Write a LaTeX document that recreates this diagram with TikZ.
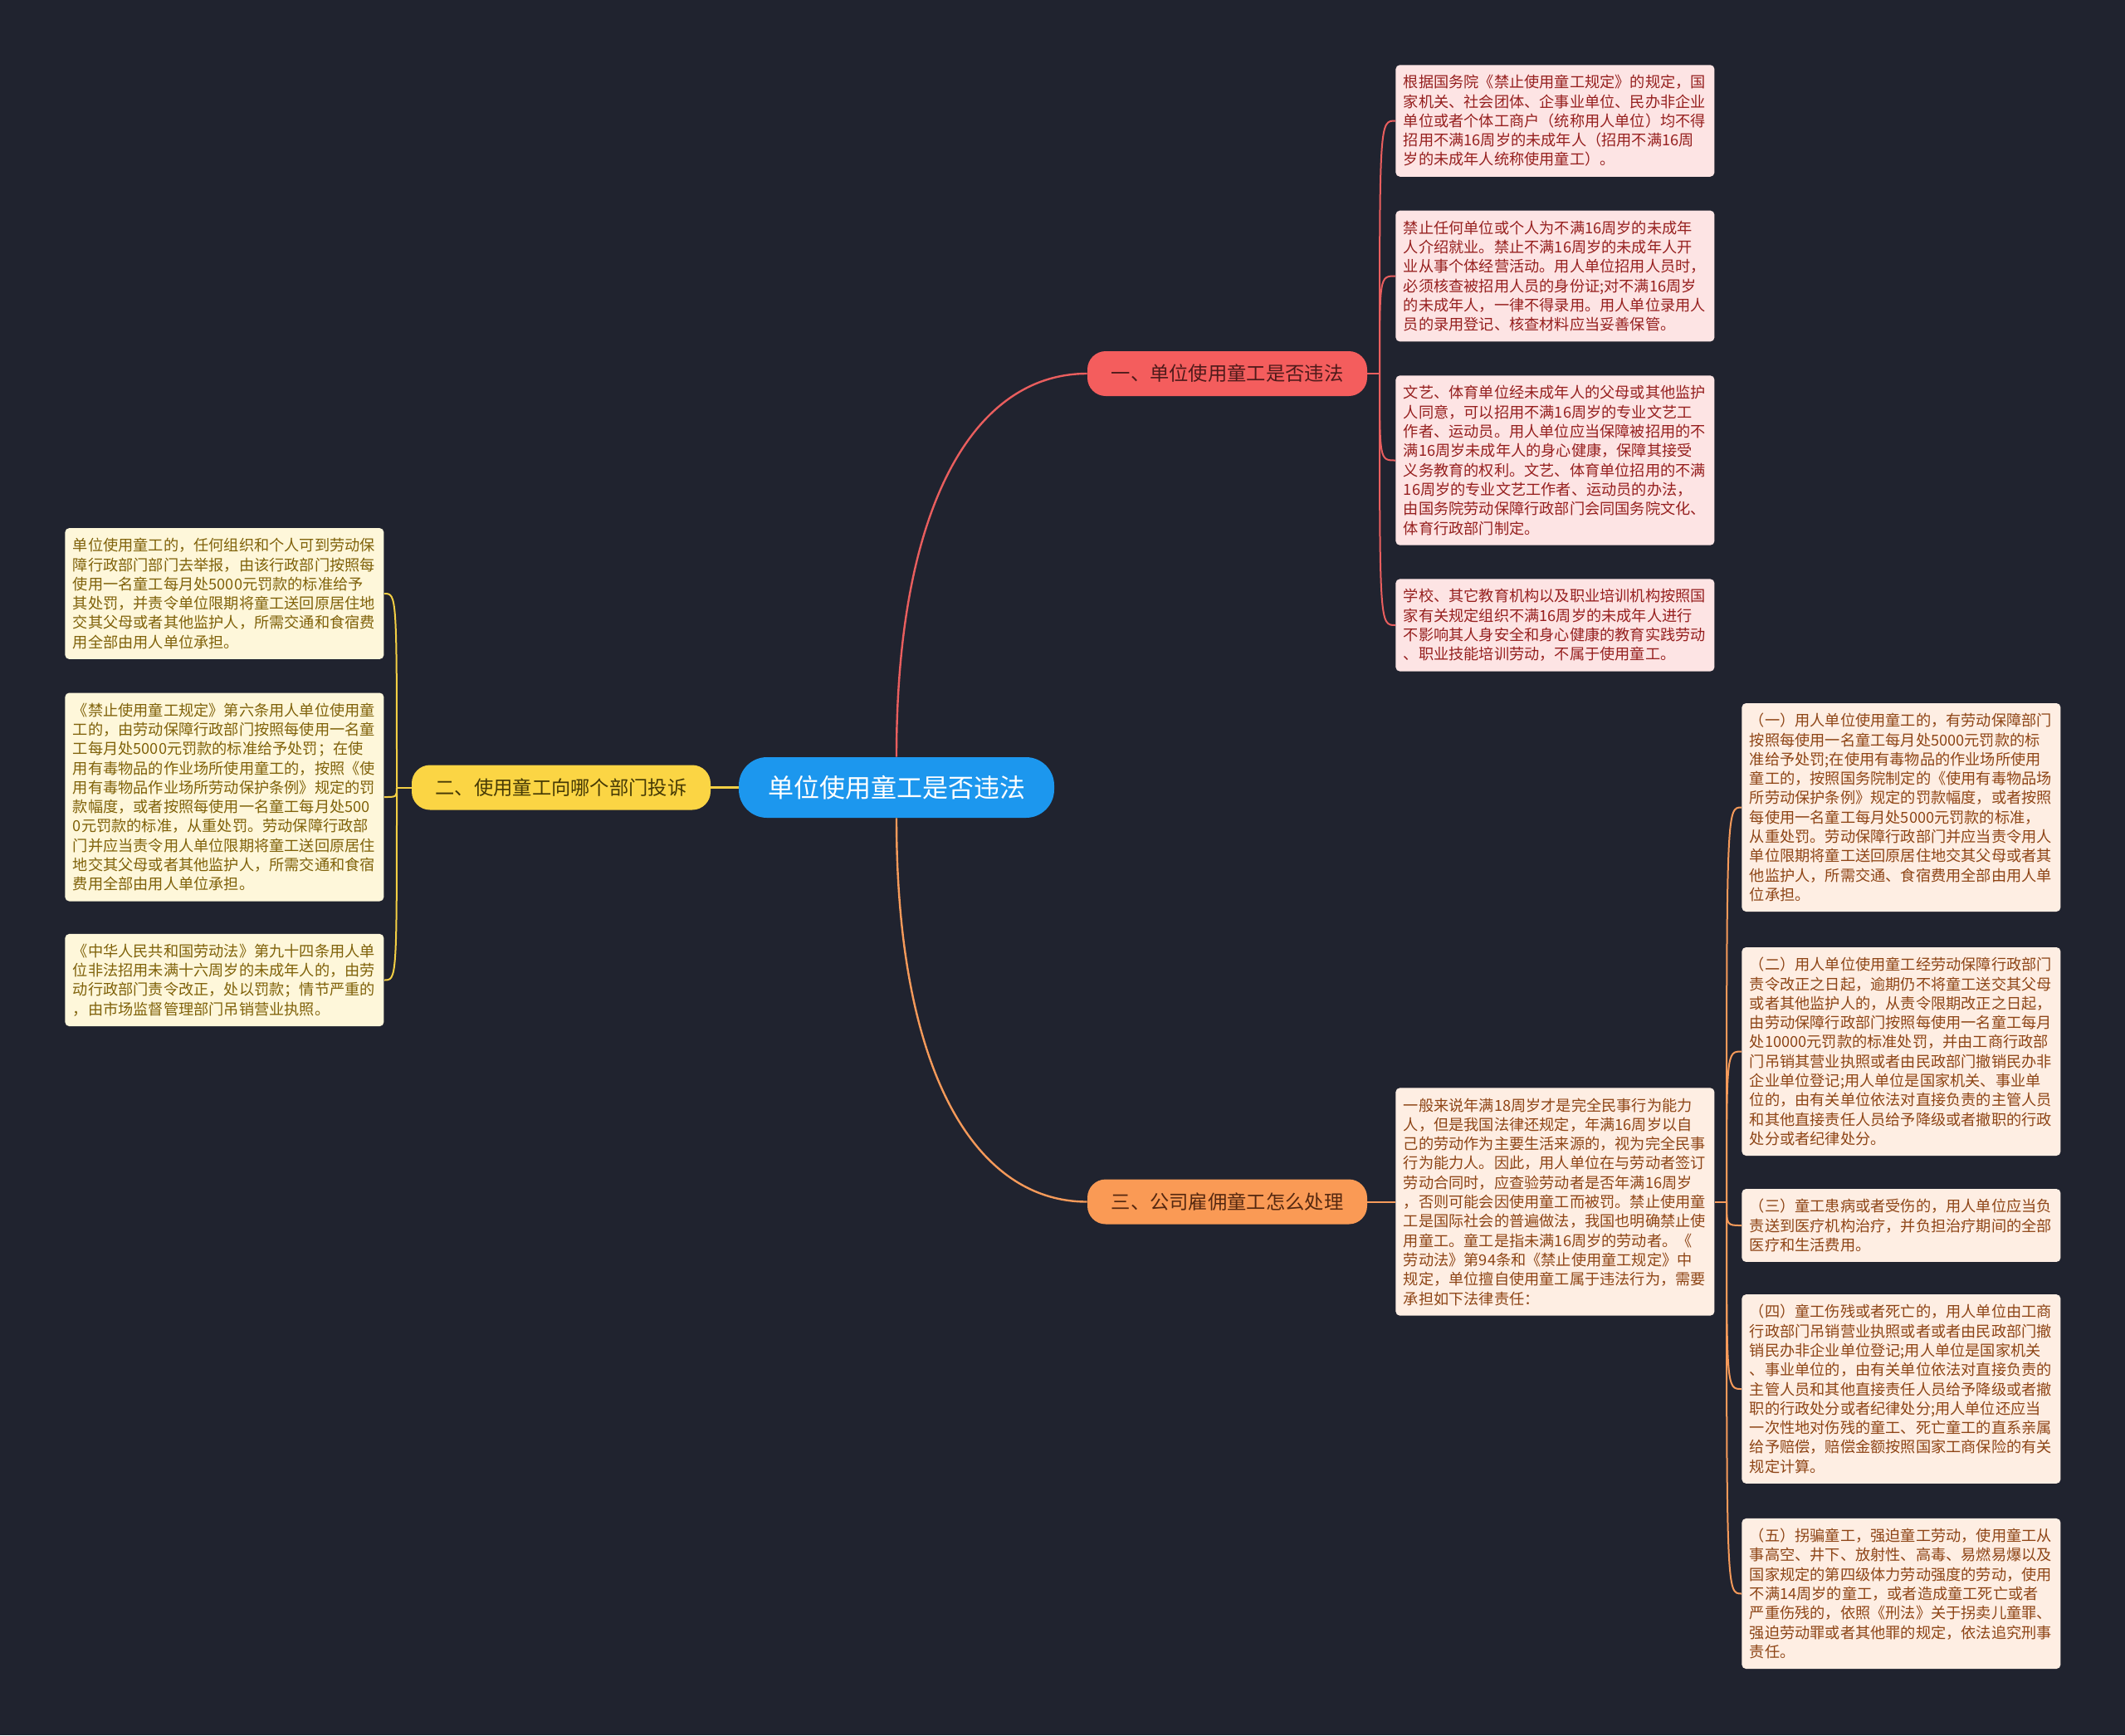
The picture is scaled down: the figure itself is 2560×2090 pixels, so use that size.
\documentclass[tikz,border=0pt]{standalone}
\usepackage{fontspec}
\setmainfont{Noto Sans CJK SC}
\definecolor{bg}{HTML}{20232F}
\definecolor{cblue}{HTML}{1C97EE}
\definecolor{redfill}{HTML}{F45D5D}
\definecolor{redline}{HTML}{E95E5E}
\definecolor{redtext}{HTML}{4E1A1A}
\definecolor{yelfill}{HTML}{FBD544}
\definecolor{yelline}{HTML}{F3CF44}
\definecolor{yeltext}{HTML}{463A05}
\definecolor{orafill}{HTML}{FA9A55}
\definecolor{oraline}{HTML}{F69A5A}
\definecolor{oratext}{HTML}{552810}
\definecolor{leafAfill}{HTML}{FDE4E4}
\definecolor{leafAtext}{HTML}{96201F}
\definecolor{leafBfill}{HTML}{FEF7DA}
\definecolor{leafBtext}{HTML}{80620A}
\definecolor{leafCfill}{HTML}{FEEEE3}
\definecolor{leafCtext}{HTML}{8E4516}
\begin{document}
\begin{tikzpicture}[x=0.5pt,y=-0.5pt,
  rootbox/.style={fill=cblue, text=white, rounded corners=17pt, minimum width=190pt, minimum height=36.5pt, inner sep=0pt, font=\fontsize{15.5pt}{18pt}\selectfont},
  branchbox/.style={rounded corners=11pt, minimum height=27pt, inner sep=0pt, font=\fontsize{11.65pt}{14pt}\selectfont},
  leafbox/.style={anchor=west, rounded corners=2.5pt, text width=182.5pt, align=left, inner xsep=4.75pt, inner ysep=2pt, font=\fontsize{9.1pt}{11.65pt}\selectfont},
  leafA/.style={leafbox, fill=leafAfill, text=leafAtext},
  leafB/.style={leafbox, fill=leafBfill, text=leafBtext},
  leafC/.style={leafbox, fill=leafCfill, text=leafCtext},
  mainlink/.style={line width=1.2pt},
  leaflink/.style={line width=1pt}
]
\useasboundingbox[fill=bg] (0,0) rectangle (2560,2090);

% root and branches
\node[rootbox] (c) at (1080,948.5) {单位使用童工是否违法};
\node[branchbox, fill=redfill, text=redtext, minimum width=168.5pt] (b1) at (1478.5,450) {一、单位使用童工是否违法};
\node[branchbox, fill=yelfill, text=yeltext, minimum width=180pt] (b2) at (676,948.5) {二、使用童工向哪个部门投诉};
\node[branchbox, fill=orafill, text=oratext, minimum width=168.5pt] (b3) at (1478.5,1447.5) {三、公司雇佣童工怎么处理};

% branch 1 leaves
\node[leafA, minimum height=67.25pt] (a1) at (1681,145.5) {根据国务院《禁止使用童工规定》的规定，国\\家机关、社会团体、企事业单位、民办非企业\\单位或者个体工商户（统称用人单位）均不得\\招用不满16周岁的未成年人（招用不满16周\\岁的未成年人统称使用童工）。};
\node[leafA, minimum height=78.9pt] (a2) at (1681,332.5) {禁止任何单位或个人为不满16周岁的未成年\\人介绍就业。禁止不满16周岁的未成年人开\\业从事个体经营活动。用人单位招用人员时，\\必须核查被招用人员的身份证;对不满16周岁\\的未成年人，一律不得录用。用人单位录用人\\员的录用登记、核查材料应当妥善保管。};
\node[leafA, minimum height=102.2pt] (a3) at (1681,554.5) {文艺、体育单位经未成年人的父母或其他监护\\人同意，可以招用不满16周岁的专业文艺工\\作者、运动员。用人单位应当保障被招用的不\\满16周岁未成年人的身心健康，保障其接受\\义务教育的权利。文艺、体育单位招用的不满\\16周岁的专业文艺工作者、运动员的办法，\\由国务院劳动保障行政部门会同国务院文化、\\体育行政部门制定。};
\node[leafA, minimum height=55.6pt] (a4) at (1681,753) {学校、其它教育机构以及职业培训机构按照国\\家有关规定组织不满16周岁的未成年人进行\\不影响其人身安全和身心健康的教育实践劳动\\、职业技能培训劳动，不属于使用童工。};

% branch 2 leaves
\node[leafB, minimum height=78.9pt] (l1) at (78,715) {单位使用童工的，任何组织和个人可到劳动保\\障行政部门部门去举报，由该行政部门按照每\\使用一名童工每月处5000元罚款的标准给予\\其处罚，并责令单位限期将童工送回原居住地\\交其父母或者其他监护人，所需交通和食宿费\\用全部由用人单位承担。};
\node[leafB, minimum height=125.5pt] (l2) at (78,960) {《禁止使用童工规定》第六条用人单位使用童\\工的，由劳动保障行政部门按照每使用一名童\\工每月处5000元罚款的标准给予处罚；在使\\用有毒物品的作业场所使用童工的，按照《使\\用有毒物品作业场所劳动保护条例》规定的罚\\款幅度，或者按照每使用一名童工每月处500\\0元罚款的标准，从重处罚。劳动保障行政部\\门并应当责令用人单位限期将童工送回原居住\\地交其父母或者其他监护人，所需交通和食宿\\费用全部由用人单位承担。};
\node[leafB, minimum height=55.6pt] (l3) at (78,1180.5) {《中华人民共和国劳动法》第九十四条用人单\\位非法招用未满十六周岁的未成年人的，由劳\\动行政部门责令改正，处以罚款；情节严重的\\，由市场监督管理部门吊销营业执照。};

% branch 3 leaves
\node[leafC, minimum height=137.15pt] (m) at (1681,1447.5) {一般来说年满18周岁才是完全民事行为能力\\人，但是我国法律还规定，年满16周岁以自\\己的劳动作为主要生活来源的，视为完全民事\\行为能力人。因此，用人单位在与劳动者签订\\劳动合同时，应查验劳动者是否年满16周岁\\，否则可能会因使用童工而被罚。禁止使用童\\工是国际社会的普遍做法，我国也明确禁止使\\用童工。童工是指未满16周岁的劳动者。《\\劳动法》第94条和《禁止使用童工规定》中\\规定，单位擅自使用童工属于违法行为，需要\\承担如下法律责任：};
\node[leafC, minimum height=125.5pt] (r1) at (2098,972.5) {（一）用人单位使用童工的，有劳动保障部门\\按照每使用一名童工每月处5000元罚款的标\\准给予处罚;在使用有毒物品的作业场所使用\\童工的，按照国务院制定的《使用有毒物品场\\所劳动保护条例》规定的罚款幅度，或者按照\\每使用一名童工每月处5000元罚款的标准，\\从重处罚。劳动保障行政部门并应当责令用人\\单位限期将童工送回原居住地交其父母或者其\\他监护人，所需交通、食宿费用全部由用人单\\位承担。};
\node[leafC, minimum height=125.5pt] (r2) at (2098,1266.5) {（二）用人单位使用童工经劳动保障行政部门\\责令改正之日起，逾期仍不将童工送交其父母\\或者其他监护人的，从责令限期改正之日起，\\由劳动保障行政部门按照每使用一名童工每月\\处10000元罚款的标准处罚，并由工商行政部\\门吊销其营业执照或者由民政部门撤销民办非\\企业单位登记;用人单位是国家机关、事业单\\位的，由有关单位依法对直接负责的主管人员\\和其他直接责任人员给予降级或者撤职的行政\\处分或者纪律处分。};
\node[leafC, minimum height=43.95pt] (r3) at (2098,1476) {（三）童工患病或者受伤的，用人单位应当负\\责送到医疗机构治疗，并负担治疗期间的全部\\医疗和生活费用。};
\node[leafC, minimum height=113.85pt] (r4) at (2098,1673) {（四）童工伤残或者死亡的，用人单位由工商\\行政部门吊销营业执照或者或者由民政部门撤\\销民办非企业单位登记;用人单位是国家机关\\、事业单位的，由有关单位依法对直接负责的\\主管人员和其他直接责任人员给予降级或者撤\\职的行政处分或者纪律处分;用人单位还应当\\一次性地对伤残的童工、死亡童工的直系亲属\\给予赔偿，赔偿金额按照国家工商保险的有关\\规定计算。};
\node[leafC, minimum height=90.55pt] (r5) at (2098,1919.5) {（五）拐骗童工，强迫童工劳动，使用童工从\\事高空、井下、放射性、高毒、易燃易爆以及\\国家规定的第四级体力劳动强度的劳动，使用\\不满14周岁的童工，或者造成童工死亡或者\\严重伤残的，依照《刑法》关于拐卖儿童罪、\\强迫劳动罪或者其他罪的规定，依法追究刑事\\责任。};

% junctions
\coordinate (ja) at (1662,450);
\coordinate (jb) at (478,948.5);
\coordinate (jr) at (2080,1447.5);

% main links
\draw[mainlink, redline] (c.north) .. controls +(0,-309) and +(-133,0) .. (b1.west);
\draw[mainlink, oraline] (c.south) .. controls +(0,309) and +(-133,0) .. (b3.west);
\draw[mainlink, yelline] (c.west) -- (b2.east);

% branch 1 links
\draw[leaflink, redline] (b1.east) -- (ja);
\foreach \n in {a1,a2,a3,a4}
  \draw[leaflink, redline] (ja) .. controls (ja |- \n.west) .. (\n.west);

% branch 2 links
\draw[leaflink, yelline] (b2.west) -- (jb);
\foreach \n in {l1,l2,l3}
  \draw[leaflink, yelline] (jb) .. controls (jb |- \n.east) .. (\n.east);

% branch 3 links
\draw[leaflink, oraline] (b3.east) -- (m.west);
\draw[leaflink, oraline] (m.east) -- (jr);
\foreach \n in {r1,r2,r3,r4,r5}
  \draw[leaflink, oraline] (jr) .. controls (jr |- \n.west) .. (\n.west);
\end{tikzpicture}
\end{document}
